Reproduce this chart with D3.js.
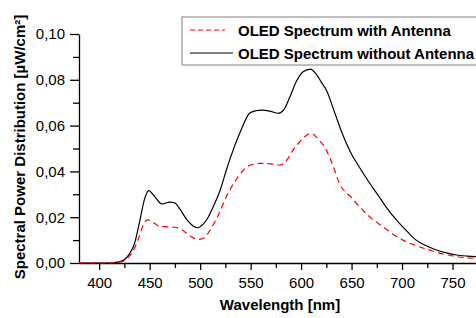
<!DOCTYPE html>
<html>
<head>
<meta charset="utf-8">
<script src="https://cdn.jsdelivr.net/npm/d3@7"></script>
<style>
  body { margin: 0; background: #fff; overflow: hidden; }
  svg { display: block; font-family: "Liberation Sans", Arial, sans-serif; }
  .axis path, .axis line { stroke: #000; stroke-width: 1.3; }
  .axis text { font-size: 15px; fill: #000; font-family: "Liberation Sans", Arial, sans-serif; }
</style>
</head>
<body>
<div id="chart"></div>
<script>
// wavelength [nm] / spectral power [µW/cm²]
const wlWithout = [380, 400, 410, 415, 420, 425, 430, 435, 440, 445, 449, 455, 462, 470, 475, 480, 487, 493, 498, 503, 508, 513, 520, 526, 530, 540, 549, 555, 561, 570, 577, 583, 589, 595, 602, 609, 615, 620, 625, 633, 642, 650, 655, 665, 675, 685, 695, 705, 714, 724, 734, 744, 754, 765, 775, 790, 800];
const spdWithout = [0, 0, 0, 0.0002, 0.0006, 0.0015, 0.004, 0.0085, 0.018, 0.028, 0.0316, 0.029, 0.0258, 0.0266, 0.0262, 0.0235, 0.0188, 0.0162, 0.0154, 0.017, 0.020, 0.0246, 0.032, 0.0406, 0.046, 0.0575, 0.0654, 0.0665, 0.0668, 0.0662, 0.0654, 0.067, 0.0726, 0.079, 0.0835, 0.0847, 0.0825, 0.079, 0.0755, 0.066, 0.0552, 0.0475, 0.0438, 0.0368, 0.0304, 0.024, 0.0185, 0.0138, 0.010, 0.0075, 0.0057, 0.0044, 0.0035, 0.003, 0.0027, 0.0023, 0.002];

const wlWith = [380, 410, 415, 420, 425, 430, 435, 440, 444, 448, 454, 460, 468, 475, 482, 490, 498, 504, 510, 518, 526, 535, 543, 550, 559, 570, 579, 586, 592, 600, 610, 617, 625, 632, 638, 650, 661, 671, 681, 691, 701, 714, 727, 740, 754, 773, 800];
const spdWith = [0, 0, 0.0001, 0.0004, 0.001, 0.003, 0.0065, 0.012, 0.017, 0.0188, 0.0175, 0.016, 0.0158, 0.0156, 0.0145, 0.0118, 0.0103, 0.011, 0.0145, 0.021, 0.029, 0.036, 0.0406, 0.0428, 0.0435, 0.0433, 0.0428, 0.045, 0.0493, 0.0535, 0.0566, 0.054, 0.0493, 0.042, 0.0348, 0.0285, 0.0231, 0.019, 0.0159, 0.0126, 0.010, 0.0075, 0.0057, 0.004, 0.0028, 0.002, 0.0015];

const xTicks = [400, 450, 500, 550, 600, 650, 700, 750];
const yTicks = [0, 0.02, 0.04, 0.06, 0.08, 0.10];
const legendLabels = ["OLED Spectrum with Antenna", "OLED Spectrum without Antenna"];

const W = 476, H = 318;
const margin = {top: 34, left: 79, bottom: 55};
const plotH = H - margin.top - margin.bottom;   // 229
const plotW = 424;                              // runs past the window, as in the picture

const svg = d3.select("#chart").append("svg")
    .attr("width", W)
    .attr("height", H);

const g = svg.append("g")
    .attr("transform", "translate(" + margin.left + "," + margin.top + ")");

// scales
const x = d3.scaleLinear().domain([380, 800]).range([0, plotW]);
const y = d3.scaleLinear().domain([0, 0.10]).range([plotH, 0]);

const fmt = d => d3.format(".2f")(d).replace(".", ",");

// minor ticks first, then major
g.append("g")
    .attr("class", "axis")
    .attr("transform", "translate(0," + plotH + ")")
    .call(d3.axisBottom(x).tickValues(d3.range(425, 801, 50)).tickSize(5).tickFormat(""))
    .select(".domain").remove();

g.append("g")
    .attr("class", "axis")
    .attr("transform", "translate(0," + plotH + ")")
    .call(d3.axisBottom(x).tickValues(xTicks).tickSize(7).tickSizeOuter(0).tickPadding(7));

g.append("g")
    .attr("class", "axis")
    .call(d3.axisLeft(y).tickValues(d3.range(0.01, 0.1, 0.02)).tickSize(6).tickFormat(""))
    .select(".domain").remove();

g.append("g")
    .attr("class", "axis")
    .call(d3.axisLeft(y).tickValues(yTicks).tickSize(9).tickSizeOuter(0).tickPadding(5).tickFormat(fmt));

// curves
const line = d3.line()
    .x(d => x(d[0]))
    .y(d => y(d[1]))
    .curve(d3.curveMonotoneX);

g.append("path")
    .datum(d3.zip(wlWithout, spdWithout))
    .attr("fill", "none")
    .attr("stroke", "#000")
    .attr("stroke-width", 1.2)
    .attr("d", line);

g.append("path")
    .datum(d3.zip(wlWith, spdWith))
    .attr("fill", "none")
    .attr("stroke", "#ff0000")
    .attr("stroke-width", 1.2)
    .attr("stroke-dasharray", "6,4")
    .attr("d", line);

// axis titles
svg.append("text")
    .attr("x", 280)
    .attr("y", 310)
    .attr("text-anchor", "middle")
    .style("font-size", "15px")
    .style("font-weight", "bold")
    .text("Wavelength [nm]");

svg.append("text")
    .attr("transform", "translate(25,147) rotate(-90)")
    .attr("text-anchor", "middle")
    .style("font-size", "15px")
    .style("font-weight", "bold")
    .text("Spectral Power Distribution [µW/cm²]");

// legend
const legend = svg.append("g").attr("transform", "translate(182,17)");

legend.append("rect")
    .attr("width", 320)
    .attr("height", 48)
    .attr("fill", "#fff")
    .attr("stroke", "#808080")
    .attr("stroke-width", 1);

const styles = [
    {color: "#ff0000", dash: "5,3", x2: 43},
    {color: "#000", dash: null, x2: 51}
];

legendLabels.forEach((lab, i) => {
    const yy = 13 + i * 23;
    legend.append("line")
        .attr("x1", 8).attr("x2", styles[i].x2)
        .attr("y1", yy).attr("y2", yy)
        .attr("stroke", styles[i].color)
        .attr("stroke-width", 1.2)
        .attr("stroke-dasharray", styles[i].dash);
    legend.append("text")
        .attr("x", 56)
        .attr("y", yy + 6)
        .style("font-size", "15px")
        .style("font-weight", "bold")
        .text(lab);
});
</script>
</body>
</html>
